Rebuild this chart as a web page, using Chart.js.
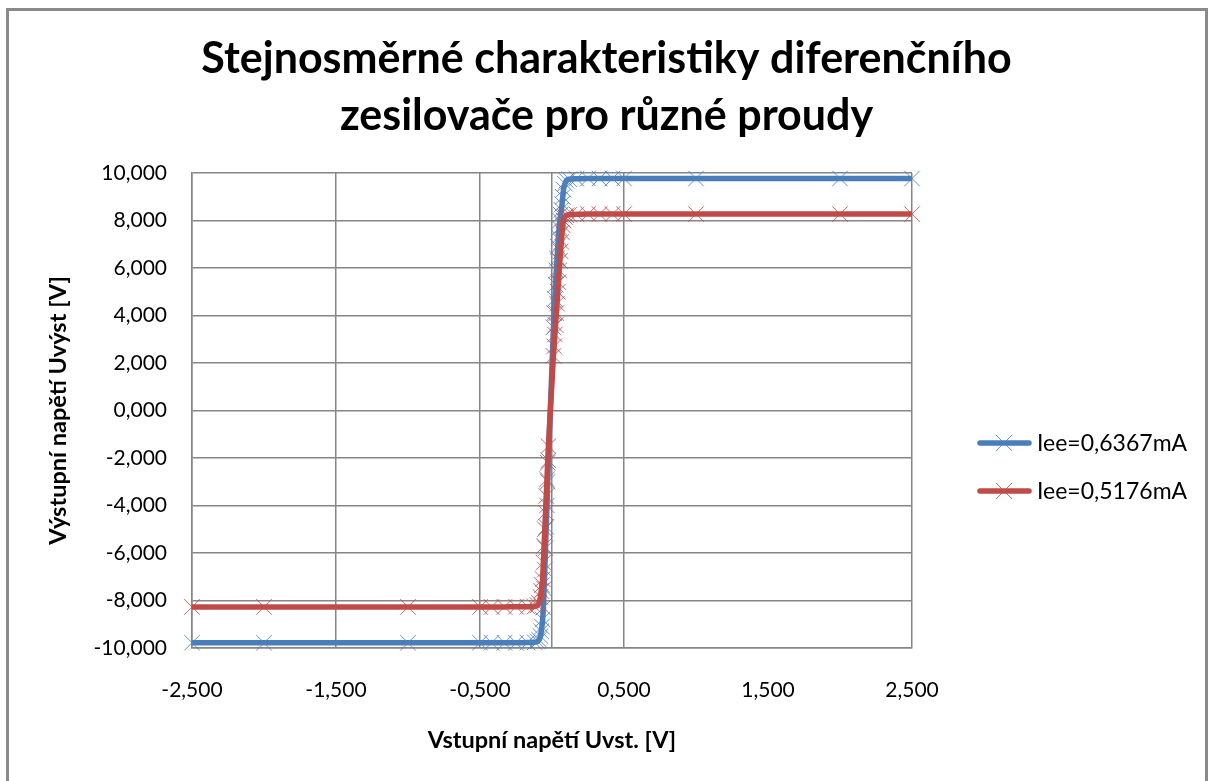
<!DOCTYPE html>
<html lang="cs">
<head>
<meta charset="UTF-8">
<title>Stejnosměrné charakteristiky diferenčního zesilovače</title>
<script src="https://cdn.jsdelivr.net/npm/chart.js@4"></script>
<style>
  html, body { margin: 0; padding: 0; background: #fff; }
  #obal { position: relative; width: 1213px; height: 781px; overflow: hidden; }
  #ramecek { position: absolute; left: 6px; top: 8px; width: 1196px; height: 800px; border: 3px solid #8a8a8a; pointer-events: none; }
</style>
</head>
<body>
<div id="obal">
  <canvas id="graf" width="1213" height="781"></canvas>
  <div id="ramecek"></div>
</div>
<script>
// vstupni napeti [V]
const vstup = [-2.5, -2, -1, -0.5, -0.42, -0.33, -0.25, -0.17,
  -0.12, -0.1, -0.09, -0.08, -0.075, -0.07, -0.065, -0.06, -0.055, -0.05, -0.045, -0.04, -0.035, -0.03, -0.025,
  0.01, 0.015, 0.02, 0.025, 0.03, 0.035, 0.04, 0.045, 0.05, 0.055, 0.06, 0.065, 0.07, 0.075, 0.08, 0.09, 0.1, 0.12,
  0.17, 0.25, 0.33, 0.42, 0.5, 1, 2, 2.5];

// vystupni napeti [V] pro Iee=0,6367mA
const vystup1 = [-9.78, -9.78, -9.78, -9.78, -9.78, -9.78, -9.78, -9.77,
  -9.76, -9.72, -9.65, -9.5, -9.3, -9.1, -8.8, -8.3, -7.5, -6.7, -5.8, -4.9, -4.0, -3.0, -2.1,
  3.5, 4.1, 4.7, 5.3, 5.9, 6.4, 6.9, 7.3, 7.7, 8.0, 8.25, 8.45, 8.7, 9.0, 9.3, 9.55, 9.68, 9.74,
  9.76, 9.77, 9.77, 9.77, 9.77, 9.77, 9.77, 9.77];

// vystupni napeti [V] pro Iee=0,5176mA
const vystup2 = [-8.27, -8.27, -8.27, -8.27, -8.27, -8.27, -8.26, -8.26,
  -8.25, -8.2, -8.1, -7.85, -7.6, -7.35, -7.1, -6.4, -5.7, -5.0, -4.3, -3.6, -2.9, -2.2, -1.5,
  2.3, 2.7, 3.2, 3.6, 4.1, 4.5, 5.0, 5.4, 5.9, 6.3, 6.7, 7.1, 7.5, 7.8, 8.0, 8.15, 8.22, 8.25,
  8.26, 8.27, 8.27, 8.27, 8.27, 8.27, 8.27, 8.27];

const nazvyRad = ['Iee=0,6367mA', 'Iee=0,5176mA'];
const xZnacky = [-2.5, -1.5, -0.5, 0, 0.5, 1.5, 2.5];
const yZnacky = [-10, -8, -6, -4, -2, 0, 2, 4, 6, 8, 10];

const pismo = 'Lato, "Liberation Sans", sans-serif';
const mrizka = '#868686';

function cislo(v) {
  return v.toFixed(3).replace('.', ',');
}

function body(ys) {
  return vstup.map((x, i) => ({ x: x, y: ys[i] }));
}

// legenda vpravo - cara se znackou a popisek
const legendaVpravo = {
  id: 'legendaVpravo',
  afterDraw(chart) {
    const ctx = chart.ctx;
    const x0 = chart.chartArea.right + 66;
    const y0 = chart.chartArea.top + 270;
    chart.data.datasets.forEach((ds, i) => {
      const y = y0 + i * 48;
      ctx.save();
      ctx.strokeStyle = ds.borderColor;
      ctx.lineWidth = ds.borderWidth;
      ctx.lineCap = 'round';
      ctx.beginPath();
      ctx.moveTo(x0 + 2, y);
      ctx.lineTo(x0 + 51, y);
      ctx.stroke();
      ctx.strokeStyle = ds.pointBorderColor;
      ctx.lineWidth = ds.pointBorderWidth;
      Chart.helpers.drawPoint(ctx, { pointStyle: 'crossRot', radius: ds.pointRadius, borderWidth: ds.pointBorderWidth, rotation: 0 }, x0 + 26, y);
      ctx.fillStyle = '#000';
      ctx.font = '23px ' + pismo;
      ctx.textBaseline = 'middle';
      ctx.fillText(ds.label, x0 + 59, y + 1);
      ctx.restore();
    });
  }
};

new Chart(document.getElementById('graf'), {
  type: 'scatter',
  data: {
    datasets: [
      {
        label: nazvyRad[0],
        data: body(vystup1),
        showLine: true,
        borderColor: '#4a7ebb',
        borderWidth: 5.5,
        cubicInterpolationMode: 'monotone',
        pointStyle: 'crossRot',
        pointRadius: 11,
        pointBorderWidth: 1,
        pointBorderColor: 'rgba(79,129,189,0.85)',
        pointBackgroundColor: 'rgba(0,0,0,0)',
        order: 1,
        clip: 14
      },
      {
        label: nazvyRad[1],
        data: body(vystup2),
        showLine: true,
        borderColor: '#be4b48',
        borderWidth: 5.5,
        cubicInterpolationMode: 'monotone',
        pointStyle: 'crossRot',
        pointRadius: 11,
        pointBorderWidth: 1,
        pointBorderColor: 'rgba(192,80,77,0.85)',
        pointBackgroundColor: 'rgba(0,0,0,0)',
        order: 0,
        clip: 14
      }
    ]
  },
  options: {
    responsive: false,
    animation: false,
    layout: { padding: 0 },
    plugins: {
      legend: { display: false },
      tooltip: { enabled: false },
      title: {
        display: true,
        text: ['Stejnosměrné charakteristiky diferenčního', 'zesilovače pro různé proudy'],
        color: '#000',
        font: { family: pismo, size: 43, weight: 'bold', lineHeight: 1.326 },
        padding: { top: 31, bottom: 28 }
      }
    },
    scales: {
      x: {
        type: 'linear',
        min: -2.5,
        max: 2.5,
        afterBuildTicks: s => { s.ticks = xZnacky.map(v => ({ value: v })); },
        afterFit: s => { s.height = 133; },
        grid: {
          color: c => (c.tick && c.tick.value === 1.5) ? 'rgba(0,0,0,0)' : mrizka,
          lineWidth: 1.5,
          drawTicks: false
        },
        border: { color: mrizka, width: 1.5 },
        ticks: {
          autoSkip: false,
          maxRotation: 0,
          padding: 30,
          color: '#000',
          font: { family: pismo, size: 21 },
          callback: v => v === 0 ? '' : cislo(v)
        },
        title: {
          display: true,
          text: 'Vstupní napětí Uvst. [V]',
          color: '#000',
          font: { family: pismo, size: 23.5, weight: 'bold', lineHeight: 1.2 },
          padding: { top: 0, bottom: 26 }
        }
      },
      y: {
        type: 'linear',
        min: -10,
        max: 10,
        afterBuildTicks: s => { s.ticks = yZnacky.map(v => ({ value: v })); },
        afterFit: s => { s.width = 192; },
        grid: { color: mrizka, lineWidth: 1.5, drawTicks: false },
        border: { color: mrizka, width: 1.5 },
        ticks: {
          padding: 25,
          color: '#000',
          font: { family: pismo, size: 21 },
          callback: v => cislo(v)
        },
        title: {
          display: true,
          text: 'Výstupní napětí Uvýst [V]',
          color: '#000',
          font: { family: pismo, size: 23.5, weight: 'bold', lineHeight: 1.2 },
          padding: { top: 44, bottom: 0 }
        }
      },
      // prazdny prostor vpravo pro legendu
      prostor: {
        type: 'linear',
        position: 'right',
        display: true,
        afterFit: s => { s.width = 301; },
        grid: { display: false },
        border: { display: false },
        ticks: { display: false }
      }
    }
  },
  plugins: [legendaVpravo]
});
</script>
</body>
</html>
